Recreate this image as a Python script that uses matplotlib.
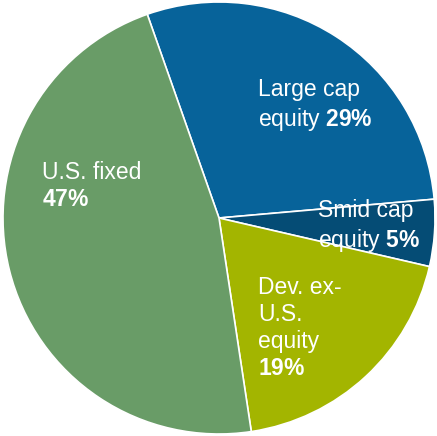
import matplotlib.pyplot as plt

plt.rcParams['font.family'] = ['Liberation Sans', 'DejaVu Sans']
plt.rcParams['mathtext.fontset'] = 'custom'
plt.rcParams['mathtext.rm'] = 'Liberation Sans'
plt.rcParams['mathtext.bf'] = 'Liberation Sans:bold'

# allocation data (clockwise from top)
labels = ['Large cap\nequity', 'Smid cap\nequity', 'Dev. ex-\nU.S.\nequity', 'U.S. fixed']
shares = [29, 5, 19, 47]
colors = ['#07639a', '#054c75', '#a3b500', '#699c67']

fig = plt.figure(figsize=(4.37, 4.36), dpi=100)
ax = fig.add_axes([0, 0, 1, 1])

ax.pie(shares, colors=colors, startangle=109.4, counterclock=False,
       radius=1.0, wedgeprops=dict(edgecolor='white', linewidth=1.2))

ax.set_xlim(-219 / 216, 218 / 216)
ax.set_ylim(-218 / 216, 218 / 216)
ax.set_aspect('equal')
ax.axis('off')

# label texts: plain name, bold percentage
txt = [
    'Large cap\nequity $\\mathbf{%d\\%%}$' % shares[0],
    'Smid cap\nequity $\\mathbf{%d\\%%}$' % shares[1],
    'Dev. ex-\nU.S.\nequity\n$\\mathbf{%d\\%%}$' % shares[2],
    'U.S. fixed\n$\\mathbf{%d\\%%}$' % shares[3],
]
pos = [(0.18, 0.52), (0.46, -0.04), (0.18, -0.51), (-0.82, 0.15)]
for t, (x, y) in zip(txt, pos):
    ax.text(x, y, t, color='white', fontsize=16.5, ha='left', va='center',
            linespacing=1.22)

fig.savefig('out.png', dpi=100)
